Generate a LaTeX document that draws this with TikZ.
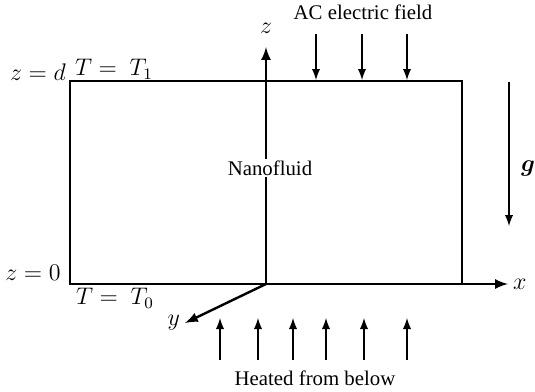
\documentclass[tikz,border=0pt]{standalone}
\usepackage{amsmath,amssymb,bm}
\usepackage{fontspec}
\setmainfont{Liberation Serif}
\usepackage{tikz}
\usetikzlibrary{positioning}

\begin{document}
\begin{tikzpicture}[x=0.5pt,y=-0.5pt, every node/.style={font=\fontsize{10.4}{12}\selectfont},
    axis/.style={line width=1.2pt,-latex},
    field/.style={line width=0.9pt,-latex}]
    \useasboundingbox (0,0) rectangle (535,391);
    % cell
    \coordinate (O) at (266,284);
    \draw[line width=0.75pt] (266,81) -| (462,284) (266,81) -| (70,284) -- (O);
    % axes
    \coordinate (zend) at (266,47);
    \coordinate (xend) at (508,284);
    \coordinate (yend) at (185,323);
    \draw[axis] (O) -- (zend);
    \draw[axis] (O) -- (xend);
    \draw[axis] (O) -- (yend);
    \node[fill=white,inner sep=1pt] (fluid) at (270,168) {Nanofluid};
    \node (zlab) at (266,28) {\large $z$};
    \node[right=-1pt of xend] (xlab) {\large $x$};
    \node[left=-1pt of yend] (ylab) {\large $y$};
    % boundary labels
    \node (topz) at (38,72) {\large $z = d$};
    \node (topT) at (114,69) {\large $T =\ T_1$};
    \node (botz) at (33,273) {\large $z = 0$};
    \node (botT) at (115,298) {\large $T =\ T_0$};
    % electric field
    \node (ac) at (363,12) {AC electric field};
    \foreach \i/\xx in {1/316,2/362,3/407} {
      \coordinate (ac\i s) at (\xx,34);
      \coordinate (ac\i e) at (\xx,80);
      \draw[field] (ac\i s) -- (ac\i e);
    }
    % gravity
    \coordinate (gs) at (509,82);
    \coordinate (ge) at (509,226);
    \draw[field] (gs) -- (ge);
    \node (glab) at (528,168) {\large $\bm{g}$};
    % heating
    \node (heat) at (315,378) {Heated from below};
    \foreach \i/\xx in {1/220,2/258,3/293,4/326,5/364,6/407} {
      \coordinate (h\i s) at (\xx,360);
      \coordinate (h\i e) at (\xx,318);
      \draw[field] (h\i s) -- (h\i e);
    }
\end{tikzpicture}
\end{document}
